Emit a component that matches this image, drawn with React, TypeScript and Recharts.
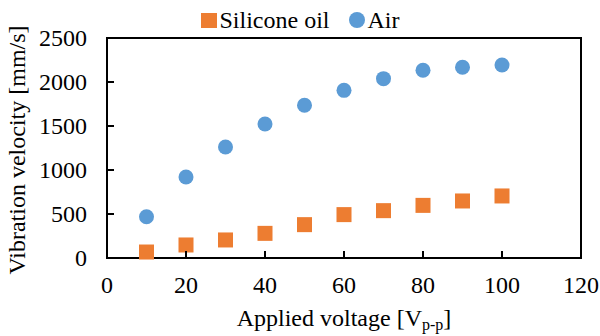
import { ScatterChart, Scatter, XAxis, YAxis, ReferenceArea, Legend } from 'recharts';

const voltage = [10, 20, 30, 40, 50, 60, 70, 80, 90, 100];
const siliconeOil = [68, 148, 205, 280, 379, 493, 538, 598, 648, 705];
const air = [469, 920, 1261, 1523, 1735, 1905, 2038, 2133, 2167, 2193];
const xTicks = [0, 20, 40, 60, 80, 100, 120];
const yTicks = [0, 500, 1000, 1500, 2000, 2500];

const ORANGE = '#ED7D31';
const BLUE = '#5B9BD5';
const FONT = 'serif';

const siliconeData = voltage.map((v, i) => ({ v, y: siliconeOil[i] }));
const airData = voltage.map((v, i) => ({ v, y: air[i] }));

const XTick = ({ x, y, payload }: any) => (
  <g>
    <line x1={x} x2={x} y1={y} y2={y - 7} stroke="#000" strokeWidth={2} />
    <text x={x} y={y + 27} textAnchor="middle" dominantBaseline="central" fontFamily={FONT} fontSize={24} fill="#000">
      {payload.value}
    </text>
  </g>
);

const YTick = ({ x, y, payload }: any) => (
  <g>
    <line x1={x} x2={x + 7} y1={y} y2={y} stroke="#000" strokeWidth={2} />
    <text x={x - 20} y={y} textAnchor="end" dominantBaseline="central" fontFamily={FONT} fontSize={24} fill="#000">
      {payload.value}
    </text>
  </g>
);

const Square = ({ cx, cy }: any) => <rect x={cx - 7.5} y={cy - 7.5} width={15} height={15} fill={ORANGE} />;
const Dot = ({ cx, cy }: any) => <circle cx={cx} cy={cy} r={7.5} fill={BLUE} />;

const LegendBox = () => (
  <div style={{ display: 'flex', justifyContent: 'center', alignItems: 'center', fontFamily: FONT, fontSize: 24, color: '#000', lineHeight: '24px' }}>
    <span style={{ width: 16, height: 15, background: ORANGE, marginRight: 3 }} />
    <span>Silicone oil</span>
    <span style={{ width: 16, height: 16, borderRadius: 8, background: BLUE, marginLeft: 19, marginRight: 3 }} />
    <span>Air</span>
  </div>
);

export default function App() {
  return (
    <div style={{ position: 'absolute', top: 0, left: 0, width: 600, height: 336, background: '#fff' }}>
      <ScatterChart width={600} height={336} margin={{ top: 38, right: 19, bottom: 0, left: 0 }}>
        <XAxis
          type="number"
          dataKey="v"
          domain={[0, 120]}
          ticks={xTicks}
          height={78}
          axisLine={false}
          tickLine={false}
          tickSize={0}
          tickMargin={0}
          tick={<XTick />}
          label={{
            content: () => (
              <text x={344} y={318} textAnchor="middle" dominantBaseline="central" fontFamily={FONT} fontSize={24} fill="#000">
                Applied voltage [V<tspan fontSize={16} dy={6}>p-p</tspan><tspan dy={-6}>]</tspan>
              </text>
            ),
          }}
        />
        <YAxis
          type="number"
          dataKey="y"
          domain={[0, 2500]}
          ticks={yTicks}
          width={107}
          axisLine={false}
          tickLine={false}
          tickSize={0}
          tickMargin={0}
          tick={<YTick />}
          label={{
            content: () => (
              <text x={17} y={150} transform="rotate(-90 17 150)" textAnchor="middle" dominantBaseline="central" fontFamily={FONT} fontSize={24} fill="#000">
                Vibration velocity [mm/s]
              </text>
            ),
          }}
        />
        <ReferenceArea x1={0} x2={120} y1={0} y2={2500} fill="none" stroke="#000" strokeWidth={2} ifOverflow="visible" />
        <Legend
          layout="horizontal"
          verticalAlign="middle"
          align="center"
          content={<LegendBox />}
          wrapperStyle={{ top: 8, left: 0, width: 600 }}
        />
        <Scatter name="Silicone oil" data={siliconeData} fill={ORANGE} shape={<Square />} isAnimationActive={false} />
        <Scatter name="Air" data={airData} fill={BLUE} shape={<Dot />} isAnimationActive={false} />
      </ScatterChart>
    </div>
  );
}
